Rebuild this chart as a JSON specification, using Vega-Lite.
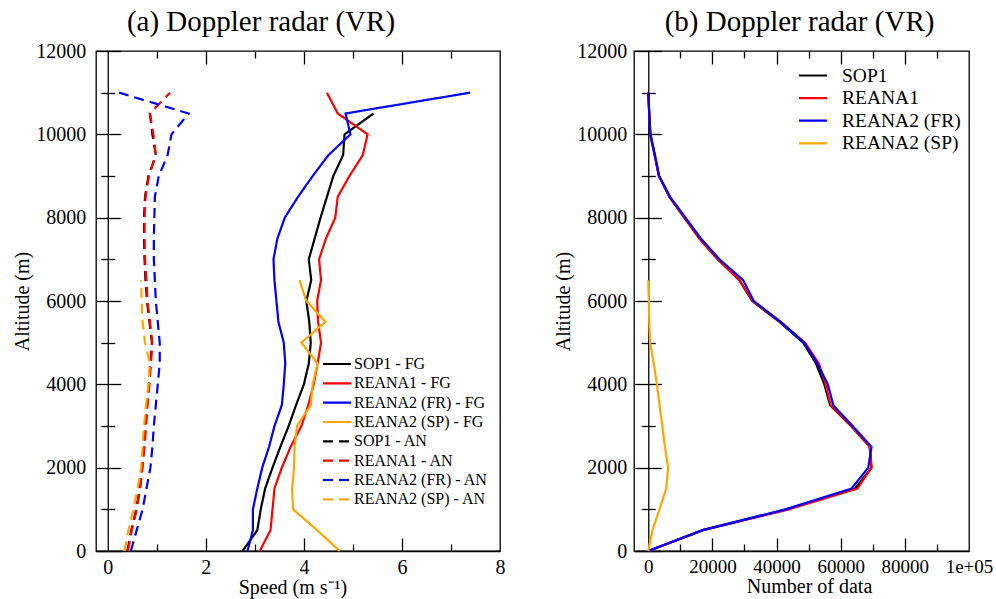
{
  "$schema": "https://vega.github.io/schema/vega-lite/v6.json",
  "background": "white",
  "padding": {"left": 12, "top": 7, "right": 0, "bottom": 0},
  "spacing": 47,
  "resolve": {"scale": {"color": "independent", "strokeDash": "independent"}, "legend": {"color": "independent", "strokeDash": "independent"}},
  "config": {
    "font": "Liberation Serif",
    "view": {"stroke": "black", "strokeWidth": 1.3},
    "axis": {
      "labelFont": "Liberation Serif", "titleFont": "Liberation Serif",
      "labelColor": "black", "titleColor": "black", "domainColor": "black", "tickColor": "black",
      "grid": false, "labelFontSize": 20, "titleFontSize": 20, "titleFontWeight": "normal",
      "domainWidth": 1.3, "tickWidth": 1.3, "labelFlush": false, "labelOverlap": false
    },
    "legend": {"labelFont": "Liberation Serif", "labelColor": "black"}
  },
  "datasets": {
    "speed": [
      {"series": "SOP1 - FG", "alt": 10500, "speed": 5.42},
      {"series": "SOP1 - FG", "alt": 10000, "speed": 4.83},
      {"series": "SOP1 - FG", "alt": 9500, "speed": 4.80},
      {"series": "SOP1 - FG", "alt": 9000, "speed": 4.60},
      {"series": "SOP1 - FG", "alt": 8500, "speed": 4.47},
      {"series": "SOP1 - FG", "alt": 8000, "speed": 4.34},
      {"series": "SOP1 - FG", "alt": 7500, "speed": 4.22},
      {"series": "SOP1 - FG", "alt": 7000, "speed": 4.10},
      {"series": "SOP1 - FG", "alt": 6500, "speed": 4.15},
      {"series": "SOP1 - FG", "alt": 6000, "speed": 4.05},
      {"series": "SOP1 - FG", "alt": 5500, "speed": 4.11},
      {"series": "SOP1 - FG", "alt": 5000, "speed": 4.14},
      {"series": "SOP1 - FG", "alt": 4500, "speed": 4.10},
      {"series": "SOP1 - FG", "alt": 4000, "speed": 4.00},
      {"series": "SOP1 - FG", "alt": 3500, "speed": 3.84},
      {"series": "SOP1 - FG", "alt": 3000, "speed": 3.69},
      {"series": "SOP1 - FG", "alt": 2500, "speed": 3.52},
      {"series": "SOP1 - FG", "alt": 2000, "speed": 3.36},
      {"series": "SOP1 - FG", "alt": 1500, "speed": 3.21},
      {"series": "SOP1 - FG", "alt": 1000, "speed": 3.12},
      {"series": "SOP1 - FG", "alt": 500, "speed": 3.05},
      {"series": "SOP1 - FG", "alt": 0, "speed": 2.75},

      {"series": "REANA1 - FG", "alt": 11000, "speed": 4.47},
      {"series": "REANA1 - FG", "alt": 10500, "speed": 4.69},
      {"series": "REANA1 - FG", "alt": 10000, "speed": 5.30},
      {"series": "REANA1 - FG", "alt": 9500, "speed": 5.20},
      {"series": "REANA1 - FG", "alt": 9000, "speed": 4.93},
      {"series": "REANA1 - FG", "alt": 8500, "speed": 4.69},
      {"series": "REANA1 - FG", "alt": 8000, "speed": 4.64},
      {"series": "REANA1 - FG", "alt": 7500, "speed": 4.45},
      {"series": "REANA1 - FG", "alt": 7000, "speed": 4.31},
      {"series": "REANA1 - FG", "alt": 6500, "speed": 4.35},
      {"series": "REANA1 - FG", "alt": 6000, "speed": 4.27},
      {"series": "REANA1 - FG", "alt": 5500, "speed": 4.29},
      {"series": "REANA1 - FG", "alt": 5000, "speed": 4.35},
      {"series": "REANA1 - FG", "alt": 4500, "speed": 4.28},
      {"series": "REANA1 - FG", "alt": 4000, "speed": 4.20},
      {"series": "REANA1 - FG", "alt": 3500, "speed": 4.09},
      {"series": "REANA1 - FG", "alt": 3000, "speed": 3.95},
      {"series": "REANA1 - FG", "alt": 2500, "speed": 3.73},
      {"series": "REANA1 - FG", "alt": 2000, "speed": 3.55},
      {"series": "REANA1 - FG", "alt": 1500, "speed": 3.40},
      {"series": "REANA1 - FG", "alt": 1000, "speed": 3.36},
      {"series": "REANA1 - FG", "alt": 500, "speed": 3.32},
      {"series": "REANA1 - FG", "alt": 0, "speed": 3.10},

      {"series": "REANA2 (FR) - FG", "alt": 11000, "speed": 7.39},
      {"series": "REANA2 (FR) - FG", "alt": 10500, "speed": 4.85},
      {"series": "REANA2 (FR) - FG", "alt": 10000, "speed": 4.95},
      {"series": "REANA2 (FR) - FG", "alt": 9500, "speed": 4.50},
      {"series": "REANA2 (FR) - FG", "alt": 9000, "speed": 4.18},
      {"series": "REANA2 (FR) - FG", "alt": 8500, "speed": 3.88},
      {"series": "REANA2 (FR) - FG", "alt": 8000, "speed": 3.61},
      {"series": "REANA2 (FR) - FG", "alt": 7500, "speed": 3.46},
      {"series": "REANA2 (FR) - FG", "alt": 7000, "speed": 3.38},
      {"series": "REANA2 (FR) - FG", "alt": 6500, "speed": 3.40},
      {"series": "REANA2 (FR) - FG", "alt": 6000, "speed": 3.44},
      {"series": "REANA2 (FR) - FG", "alt": 5500, "speed": 3.48},
      {"series": "REANA2 (FR) - FG", "alt": 5000, "speed": 3.59},
      {"series": "REANA2 (FR) - FG", "alt": 4500, "speed": 3.62},
      {"series": "REANA2 (FR) - FG", "alt": 4000, "speed": 3.59},
      {"series": "REANA2 (FR) - FG", "alt": 3500, "speed": 3.55},
      {"series": "REANA2 (FR) - FG", "alt": 3000, "speed": 3.40},
      {"series": "REANA2 (FR) - FG", "alt": 2500, "speed": 3.29},
      {"series": "REANA2 (FR) - FG", "alt": 2000, "speed": 3.15},
      {"series": "REANA2 (FR) - FG", "alt": 1500, "speed": 3.05},
      {"series": "REANA2 (FR) - FG", "alt": 1000, "speed": 2.96},
      {"series": "REANA2 (FR) - FG", "alt": 500, "speed": 2.96},
      {"series": "REANA2 (FR) - FG", "alt": 0, "speed": 2.85},

      {"series": "REANA2 (SP) - FG", "alt": 6500, "speed": 3.91},
      {"series": "REANA2 (SP) - FG", "alt": 6000, "speed": 4.05},
      {"series": "REANA2 (SP) - FG", "alt": 5500, "speed": 4.44},
      {"series": "REANA2 (SP) - FG", "alt": 5000, "speed": 3.95},
      {"series": "REANA2 (SP) - FG", "alt": 4500, "speed": 4.28},
      {"series": "REANA2 (SP) - FG", "alt": 4000, "speed": 4.18},
      {"series": "REANA2 (SP) - FG", "alt": 3500, "speed": 4.14},
      {"series": "REANA2 (SP) - FG", "alt": 3000, "speed": 3.86},
      {"series": "REANA2 (SP) - FG", "alt": 2500, "speed": 3.81},
      {"series": "REANA2 (SP) - FG", "alt": 2000, "speed": 3.80},
      {"series": "REANA2 (SP) - FG", "alt": 1500, "speed": 3.76},
      {"series": "REANA2 (SP) - FG", "alt": 1000, "speed": 3.78},
      {"series": "REANA2 (SP) - FG", "alt": 500, "speed": 4.27},
      {"series": "REANA2 (SP) - FG", "alt": 0, "speed": 4.73},

      {"series": "SOP1 - AN", "alt": 10500, "speed": 0.86},
      {"series": "SOP1 - AN", "alt": 10000, "speed": 0.91},
      {"series": "SOP1 - AN", "alt": 9500, "speed": 0.98},
      {"series": "SOP1 - AN", "alt": 9000, "speed": 0.83},
      {"series": "SOP1 - AN", "alt": 8500, "speed": 0.76},
      {"series": "SOP1 - AN", "alt": 8000, "speed": 0.74},
      {"series": "SOP1 - AN", "alt": 7500, "speed": 0.74},
      {"series": "SOP1 - AN", "alt": 7000, "speed": 0.75},
      {"series": "SOP1 - AN", "alt": 6500, "speed": 0.77},
      {"series": "SOP1 - AN", "alt": 6000, "speed": 0.80},
      {"series": "SOP1 - AN", "alt": 5500, "speed": 0.85},
      {"series": "SOP1 - AN", "alt": 5000, "speed": 0.90},
      {"series": "SOP1 - AN", "alt": 4500, "speed": 0.87},
      {"series": "SOP1 - AN", "alt": 4000, "speed": 0.84},
      {"series": "SOP1 - AN", "alt": 3500, "speed": 0.80},
      {"series": "SOP1 - AN", "alt": 3000, "speed": 0.77},
      {"series": "SOP1 - AN", "alt": 2500, "speed": 0.74},
      {"series": "SOP1 - AN", "alt": 2000, "speed": 0.70},
      {"series": "SOP1 - AN", "alt": 1500, "speed": 0.65},
      {"series": "SOP1 - AN", "alt": 1000, "speed": 0.58},
      {"series": "SOP1 - AN", "alt": 500, "speed": 0.48},
      {"series": "SOP1 - AN", "alt": 0, "speed": 0.40},

      {"series": "REANA1 - AN", "alt": 11000, "speed": 1.27},
      {"series": "REANA1 - AN", "alt": 10500, "speed": 0.86},
      {"series": "REANA1 - AN", "alt": 10000, "speed": 0.93},
      {"series": "REANA1 - AN", "alt": 9500, "speed": 0.98},
      {"series": "REANA1 - AN", "alt": 9000, "speed": 0.84},
      {"series": "REANA1 - AN", "alt": 8500, "speed": 0.77},
      {"series": "REANA1 - AN", "alt": 8000, "speed": 0.75},
      {"series": "REANA1 - AN", "alt": 7500, "speed": 0.75},
      {"series": "REANA1 - AN", "alt": 7000, "speed": 0.76},
      {"series": "REANA1 - AN", "alt": 6500, "speed": 0.79},
      {"series": "REANA1 - AN", "alt": 6000, "speed": 0.81},
      {"series": "REANA1 - AN", "alt": 5500, "speed": 0.86},
      {"series": "REANA1 - AN", "alt": 5000, "speed": 0.91},
      {"series": "REANA1 - AN", "alt": 4500, "speed": 0.88},
      {"series": "REANA1 - AN", "alt": 4000, "speed": 0.85},
      {"series": "REANA1 - AN", "alt": 3500, "speed": 0.81},
      {"series": "REANA1 - AN", "alt": 3000, "speed": 0.78},
      {"series": "REANA1 - AN", "alt": 2500, "speed": 0.75},
      {"series": "REANA1 - AN", "alt": 2000, "speed": 0.71},
      {"series": "REANA1 - AN", "alt": 1500, "speed": 0.66},
      {"series": "REANA1 - AN", "alt": 1000, "speed": 0.59},
      {"series": "REANA1 - AN", "alt": 500, "speed": 0.49},
      {"series": "REANA1 - AN", "alt": 0, "speed": 0.41},

      {"series": "REANA2 (FR) - AN", "alt": 11000, "speed": 0.23},
      {"series": "REANA2 (FR) - AN", "alt": 10500, "speed": 1.65},
      {"series": "REANA2 (FR) - AN", "alt": 10000, "speed": 1.30},
      {"series": "REANA2 (FR) - AN", "alt": 9500, "speed": 1.22},
      {"series": "REANA2 (FR) - AN", "alt": 9000, "speed": 1.04},
      {"series": "REANA2 (FR) - AN", "alt": 8500, "speed": 0.96},
      {"series": "REANA2 (FR) - AN", "alt": 8000, "speed": 0.95},
      {"series": "REANA2 (FR) - AN", "alt": 7500, "speed": 0.94},
      {"series": "REANA2 (FR) - AN", "alt": 7000, "speed": 0.94},
      {"series": "REANA2 (FR) - AN", "alt": 6500, "speed": 0.96},
      {"series": "REANA2 (FR) - AN", "alt": 6000, "speed": 0.98},
      {"series": "REANA2 (FR) - AN", "alt": 5500, "speed": 1.02},
      {"series": "REANA2 (FR) - AN", "alt": 5000, "speed": 1.06},
      {"series": "REANA2 (FR) - AN", "alt": 4500, "speed": 1.06},
      {"series": "REANA2 (FR) - AN", "alt": 4000, "speed": 1.02},
      {"series": "REANA2 (FR) - AN", "alt": 3500, "speed": 0.98},
      {"series": "REANA2 (FR) - AN", "alt": 3000, "speed": 0.94},
      {"series": "REANA2 (FR) - AN", "alt": 2500, "speed": 0.91},
      {"series": "REANA2 (FR) - AN", "alt": 2000, "speed": 0.87},
      {"series": "REANA2 (FR) - AN", "alt": 1500, "speed": 0.79},
      {"series": "REANA2 (FR) - AN", "alt": 1000, "speed": 0.71},
      {"series": "REANA2 (FR) - AN", "alt": 500, "speed": 0.59},
      {"series": "REANA2 (FR) - AN", "alt": 0, "speed": 0.47},

      {"series": "REANA2 (SP) - AN", "alt": 6500, "speed": 0.68},
      {"series": "REANA2 (SP) - AN", "alt": 6000, "speed": 0.69},
      {"series": "REANA2 (SP) - AN", "alt": 5500, "speed": 0.71},
      {"series": "REANA2 (SP) - AN", "alt": 5000, "speed": 0.76},
      {"series": "REANA2 (SP) - AN", "alt": 4500, "speed": 0.86},
      {"series": "REANA2 (SP) - AN", "alt": 4000, "speed": 0.83},
      {"series": "REANA2 (SP) - AN", "alt": 3500, "speed": 0.78},
      {"series": "REANA2 (SP) - AN", "alt": 3000, "speed": 0.74},
      {"series": "REANA2 (SP) - AN", "alt": 2500, "speed": 0.71},
      {"series": "REANA2 (SP) - AN", "alt": 2000, "speed": 0.68},
      {"series": "REANA2 (SP) - AN", "alt": 1500, "speed": 0.61},
      {"series": "REANA2 (SP) - AN", "alt": 1000, "speed": 0.52},
      {"series": "REANA2 (SP) - AN", "alt": 500, "speed": 0.42},
      {"series": "REANA2 (SP) - AN", "alt": 0, "speed": 0.34}
    ],
    "count": [
      {"series": "SOP1", "alt": 11000, "n": 0},
      {"series": "SOP1", "alt": 10500, "n": 300},
      {"series": "SOP1", "alt": 10000, "n": 600},
      {"series": "SOP1", "alt": 9500, "n": 2000},
      {"series": "SOP1", "alt": 9000, "n": 3300},
      {"series": "SOP1", "alt": 8500, "n": 6600},
      {"series": "SOP1", "alt": 8000, "n": 11300},
      {"series": "SOP1", "alt": 7500, "n": 16000},
      {"series": "SOP1", "alt": 7000, "n": 21700},
      {"series": "SOP1", "alt": 6500, "n": 28400},
      {"series": "SOP1", "alt": 6000, "n": 32400},
      {"series": "SOP1", "alt": 5500, "n": 40900},
      {"series": "SOP1", "alt": 5000, "n": 48300},
      {"series": "SOP1", "alt": 4500, "n": 52300},
      {"series": "SOP1", "alt": 4000, "n": 54900},
      {"series": "SOP1", "alt": 3500, "n": 56700},
      {"series": "SOP1", "alt": 3000, "n": 63200},
      {"series": "SOP1", "alt": 2500, "n": 69100},
      {"series": "SOP1", "alt": 2000, "n": 69600},
      {"series": "SOP1", "alt": 1500, "n": 64500},
      {"series": "SOP1", "alt": 1000, "n": 43200},
      {"series": "SOP1", "alt": 500, "n": 17000},
      {"series": "SOP1", "alt": 0, "n": 0},

      {"series": "REANA1", "alt": 11000, "n": 0},
      {"series": "REANA1", "alt": 10500, "n": 300},
      {"series": "REANA1", "alt": 10000, "n": 600},
      {"series": "REANA1", "alt": 9500, "n": 2000},
      {"series": "REANA1", "alt": 9000, "n": 3300},
      {"series": "REANA1", "alt": 8500, "n": 6600},
      {"series": "REANA1", "alt": 8000, "n": 11200},
      {"series": "REANA1", "alt": 7500, "n": 15900},
      {"series": "REANA1", "alt": 7000, "n": 21600},
      {"series": "REANA1", "alt": 6500, "n": 28500},
      {"series": "REANA1", "alt": 6000, "n": 32500},
      {"series": "REANA1", "alt": 5500, "n": 41200},
      {"series": "REANA1", "alt": 5000, "n": 48900},
      {"series": "REANA1", "alt": 4500, "n": 53200},
      {"series": "REANA1", "alt": 4000, "n": 55300},
      {"series": "REANA1", "alt": 3500, "n": 56900},
      {"series": "REANA1", "alt": 3000, "n": 63300},
      {"series": "REANA1", "alt": 2500, "n": 69000},
      {"series": "REANA1", "alt": 2000, "n": 69600},
      {"series": "REANA1", "alt": 1500, "n": 65200},
      {"series": "REANA1", "alt": 1000, "n": 43800},
      {"series": "REANA1", "alt": 500, "n": 17000},
      {"series": "REANA1", "alt": 0, "n": 0},

      {"series": "REANA2 (FR)", "alt": 11000, "n": 0},
      {"series": "REANA2 (FR)", "alt": 10500, "n": 300},
      {"series": "REANA2 (FR)", "alt": 10000, "n": 700},
      {"series": "REANA2 (FR)", "alt": 9500, "n": 2100},
      {"series": "REANA2 (FR)", "alt": 9000, "n": 3400},
      {"series": "REANA2 (FR)", "alt": 8500, "n": 6800},
      {"series": "REANA2 (FR)", "alt": 8000, "n": 11600},
      {"series": "REANA2 (FR)", "alt": 7500, "n": 16400},
      {"series": "REANA2 (FR)", "alt": 7000, "n": 22200},
      {"series": "REANA2 (FR)", "alt": 6500, "n": 29600},
      {"series": "REANA2 (FR)", "alt": 6000, "n": 32900},
      {"series": "REANA2 (FR)", "alt": 5500, "n": 41300},
      {"series": "REANA2 (FR)", "alt": 5000, "n": 48600},
      {"series": "REANA2 (FR)", "alt": 4500, "n": 52700},
      {"series": "REANA2 (FR)", "alt": 4000, "n": 56000},
      {"series": "REANA2 (FR)", "alt": 3500, "n": 57700},
      {"series": "REANA2 (FR)", "alt": 3000, "n": 63700},
      {"series": "REANA2 (FR)", "alt": 2500, "n": 69600},
      {"series": "REANA2 (FR)", "alt": 2000, "n": 68600},
      {"series": "REANA2 (FR)", "alt": 1500, "n": 63400},
      {"series": "REANA2 (FR)", "alt": 1000, "n": 42800},
      {"series": "REANA2 (FR)", "alt": 500, "n": 17000},
      {"series": "REANA2 (FR)", "alt": 0, "n": 0},

      {"series": "REANA2 (SP)", "alt": 6500, "n": 0},
      {"series": "REANA2 (SP)", "alt": 6000, "n": 200},
      {"series": "REANA2 (SP)", "alt": 5500, "n": 300},
      {"series": "REANA2 (SP)", "alt": 5000, "n": 600},
      {"series": "REANA2 (SP)", "alt": 4500, "n": 1700},
      {"series": "REANA2 (SP)", "alt": 4000, "n": 2700},
      {"series": "REANA2 (SP)", "alt": 3500, "n": 3500},
      {"series": "REANA2 (SP)", "alt": 3000, "n": 4400},
      {"series": "REANA2 (SP)", "alt": 2500, "n": 5200},
      {"series": "REANA2 (SP)", "alt": 2000, "n": 6200},
      {"series": "REANA2 (SP)", "alt": 1500, "n": 5600},
      {"series": "REANA2 (SP)", "alt": 1000, "n": 3500},
      {"series": "REANA2 (SP)", "alt": 500, "n": 1300},
      {"series": "REANA2 (SP)", "alt": 0, "n": 0}
    ]
  },
  "hconcat": [
    {
      "title": {"text": "(a) Doppler radar (VR)", "fontSize": 29, "fontWeight": "normal", "font": "Liberation Serif", "color": "black", "anchor": "middle", "frame": "group", "dx": -37, "baseline": "alphabetic", "offset": -19},
      "width": 404,
      "height": 500,
      "data": {"name": "speed"},
      "resolve": {"axis": {"x": "independent", "y": "independent"}},
      "layer": [
        {
          "mark": {"type": "line", "strokeWidth": 2.2},
          "encoding": {
            "x": {"field": "speed", "type": "quantitative", "scale": {"domain": [-0.24, 8], "nice": false, "zero": false},
                  "axis": {"orient": "bottom", "values": [0, 2, 4, 6, 8], "format": "d", "title": "Speed (m s⁻¹)", "titleX": 196.5, "ticks": false, "tickSize": 0, "labelPadding": 6.4, "titlePadding": 0}},
            "y": {"field": "alt", "type": "quantitative", "scale": {"domain": [0, 12000], "nice": false},
                  "axis": {"orient": "left", "values": [0, 2000, 4000, 6000, 8000, 10000, 12000], "format": "d", "title": "Altitude (m)", "offset": -11.77, "tickSize": 12, "labelPadding": 10, "titlePadding": 3}},
            "color": {"field": "series", "type": "nominal",
                      "scale": {"domain": ["SOP1 - FG", "REANA1 - FG", "REANA2 (FR) - FG", "REANA2 (SP) - FG", "SOP1 - AN", "REANA1 - AN", "REANA2 (FR) - AN", "REANA2 (SP) - AN"],
                                "range": ["#000000", "#ff0000", "#0000ff", "#ffa500", "#000000", "#ff0000", "#0000ff", "#ffa500"]},
                      "legend": {"orient": "none", "legendX": 225.5, "legendY": 305, "title": null, "symbolType": "stroke", "symbolSize": 784, "symbolStrokeWidth": 2.2, "labelFontSize": 16, "clipHeight": 16, "rowPadding": 3.33, "labelOffset": 1.5, "padding": 0}},
            "strokeDash": {"field": "series", "type": "nominal",
                      "scale": {"domain": ["SOP1 - FG", "REANA1 - FG", "REANA2 (FR) - FG", "REANA2 (SP) - FG", "SOP1 - AN", "REANA1 - AN", "REANA2 (FR) - AN", "REANA2 (SP) - AN"],
                                "range": [[1, 0], [1, 0], [1, 0], [1, 0], [10, 6], [10, 6], [10, 6], [10, 6]]},
                      "legend": {"orient": "none", "legendX": 225.5, "legendY": 305, "title": null, "symbolType": "stroke", "symbolSize": 784, "symbolStrokeWidth": 2.2, "labelFontSize": 16, "clipHeight": 16, "rowPadding": 3.33, "labelOffset": 1.5, "padding": 0}},
            "order": {"field": "alt", "type": "quantitative"}
          }
        },
        {
          "mark": {"type": "point", "opacity": 0},
          "encoding": {
            "x": {"field": "speed", "type": "quantitative", "axis": {"orient": "bottom", "values": [2, 4, 6], "labels": false, "domain": false, "title": null, "offset": -13, "tickSize": 13}},
            "y": {"field": "alt", "type": "quantitative", "axis": {"orient": "left", "values": [0, 2000, 4000, 6000, 8000, 10000, 12000], "labels": false, "domain": false, "title": null, "offset": -24.77, "tickSize": 13}}
          }
        },
        {
          "mark": {"type": "point", "opacity": 0},
          "encoding": {
            "x": {"field": "speed", "type": "quantitative", "axis": {"orient": "bottom", "values": [1, 3, 5, 7], "labels": false, "domain": false, "title": null, "offset": -7, "tickSize": 7}},
            "y": {"field": "alt", "type": "quantitative", "axis": {"orient": "left", "values": [1000, 3000, 5000, 7000, 9000, 11000], "labels": false, "domain": false, "title": null, "offset": -11.77, "tickSize": 7}}
          }
        },
        {
          "mark": {"type": "point", "opacity": 0},
          "encoding": {
            "x": {"field": "speed", "type": "quantitative", "axis": {"orient": "top", "values": [2, 4, 6], "labels": false, "domain": false, "title": null, "offset": -13, "tickSize": 13}},
            "y": {"field": "alt", "type": "quantitative", "axis": {"orient": "left", "values": [1000, 3000, 5000, 7000, 9000, 11000], "labels": false, "domain": false, "title": null, "offset": -18.77, "tickSize": 7}}
          }
        },
        {
          "mark": {"type": "point", "opacity": 0},
          "encoding": {
            "x": {"field": "speed", "type": "quantitative", "axis": {"orient": "top", "values": [1, 3, 5, 7], "labels": false, "domain": false, "title": null, "offset": -7, "tickSize": 7}},
            "y": {"field": "alt", "type": "quantitative", "axis": null}
          }
        }
      ]
    },
    {
      "title": {"text": "(b) Doppler radar (VR)", "fontSize": 29, "fontWeight": "normal", "font": "Liberation Serif", "color": "black", "anchor": "middle", "frame": "group", "dx": -2, "baseline": "alphabetic", "offset": -19},
      "width": 335,
      "height": 500,
      "data": {"name": "count"},
      "resolve": {"axis": {"x": "independent", "y": "independent"}},
      "layer": [
        {
          "mark": {"type": "line", "strokeWidth": 2.2},
          "encoding": {
            "x": {"field": "n", "type": "quantitative", "scale": {"domain": [-4450, 100000], "nice": false, "zero": false},
                  "axis": {"orient": "bottom", "values": [0, 20000, 40000, 60000, 80000, 100000], "labelExpr": "datum.value >= 100000 ? '1e+05' : format(datum.value, 'd')", "labelFontSize": 19, "title": "Number of data", "titleX": 175, "ticks": false, "tickSize": 0, "labelPadding": 6.4, "titlePadding": 0}},
            "y": {"field": "alt", "type": "quantitative", "scale": {"domain": [0, 12000], "nice": false},
                  "axis": {"orient": "left", "values": [0, 2000, 4000, 6000, 8000, 10000, 12000], "format": "d", "title": "Altitude (m)", "offset": -14.27, "tickSize": 13.5, "labelPadding": 8, "titlePadding": 3}},
            "color": {"field": "series", "type": "nominal",
                      "scale": {"domain": ["SOP1", "REANA1", "REANA2 (FR)", "REANA2 (SP)"], "range": ["#000000", "#ff0000", "#0000ff", "#ffa500"]},
                      "legend": {"orient": "none", "legendX": 163.5, "legendY": 14.5, "title": null, "symbolType": "stroke", "symbolSize": 784, "symbolStrokeWidth": 2.2, "labelFontSize": 19.5, "clipHeight": 20, "rowPadding": 2.6, "labelOffset": 13.5, "padding": 0}},
            "order": {"field": "alt", "type": "quantitative"}
          }
        },
        {
          "mark": {"type": "point", "opacity": 0},
          "encoding": {
            "x": {"field": "n", "type": "quantitative", "axis": {"orient": "bottom", "values": [20000, 40000, 60000, 80000], "labels": false, "domain": false, "title": null, "offset": -13, "tickSize": 13}},
            "y": {"field": "alt", "type": "quantitative", "axis": {"orient": "left", "values": [0, 2000, 4000, 6000, 8000, 10000, 12000], "labels": false, "domain": false, "title": null, "offset": -27.27, "tickSize": 13}}
          }
        },
        {
          "mark": {"type": "point", "opacity": 0},
          "encoding": {
            "x": {"field": "n", "type": "quantitative", "axis": {"orient": "bottom", "values": [10000, 30000, 50000, 70000, 90000], "labels": false, "domain": false, "title": null, "offset": -7, "tickSize": 7}},
            "y": {"field": "alt", "type": "quantitative", "axis": {"orient": "left", "values": [1000, 3000, 5000, 7000, 9000, 11000], "labels": false, "domain": false, "title": null, "offset": -14.27, "tickSize": 7}}
          }
        },
        {
          "mark": {"type": "point", "opacity": 0},
          "encoding": {
            "x": {"field": "n", "type": "quantitative", "axis": {"orient": "top", "values": [20000, 40000, 60000, 80000], "labels": false, "domain": false, "title": null, "offset": -13, "tickSize": 13}},
            "y": {"field": "alt", "type": "quantitative", "axis": {"orient": "left", "values": [1000, 3000, 5000, 7000, 9000, 11000], "labels": false, "domain": false, "title": null, "offset": -21.27, "tickSize": 7}}
          }
        },
        {
          "mark": {"type": "point", "opacity": 0},
          "encoding": {
            "x": {"field": "n", "type": "quantitative", "axis": {"orient": "top", "values": [10000, 30000, 50000, 70000, 90000], "labels": false, "domain": false, "title": null, "offset": -7, "tickSize": 7}},
            "y": {"field": "alt", "type": "quantitative", "axis": null}
          }
        }
      ]
    }
  ]
}
